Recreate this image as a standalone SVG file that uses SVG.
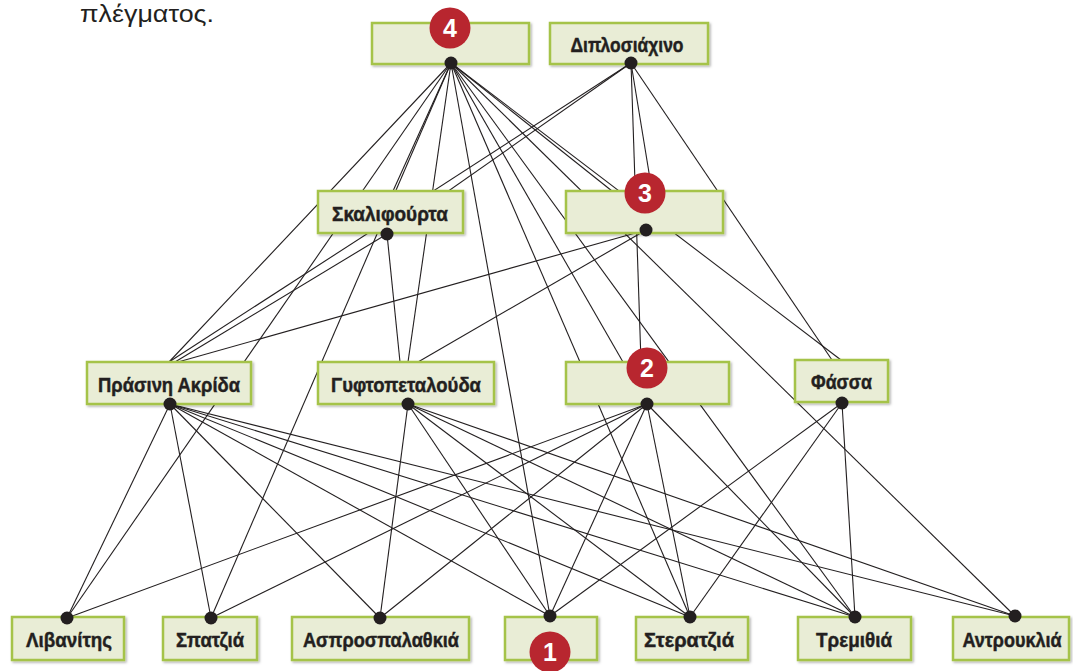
<svg xmlns="http://www.w3.org/2000/svg" width="1073" height="671" viewBox="0 0 1073 671">
<defs>
<filter id="sh" x="-10%" y="-20%" width="130%" height="150%">
<feDropShadow dx="1.5" dy="1.5" stdDeviation="1.2" flood-color="#000" flood-opacity="0.3"/>
</filter>
</defs>
<style>
.box{fill:#e9edd6;stroke:#a5c34a;stroke-width:2.5;filter:url(#sh)}
.lbl{font-family:"Liberation Sans",Arial,sans-serif;font-weight:bold;font-size:21px;fill:#231f20;stroke:#231f20;stroke-width:0.45;text-anchor:middle}
.dot{fill:#231f20}
.badge{fill:#b8262f}
.num{font-family:"Liberation Sans",Arial,sans-serif;font-weight:bold;font-size:25px;fill:#fff;text-anchor:middle}
.c line{stroke:#231f20;stroke-width:1.1}
.cap{font-family:"Liberation Sans",Arial,sans-serif;font-size:24px;fill:#231f20}
</style>
<rect width="1073" height="671" fill="#fff"/>
<text class="cap" x="80" y="22" textLength="134" lengthAdjust="spacingAndGlyphs">πλέγματος.</text>
<g id="connectors" class="c">
<line x1="451" y1="63" x2="169" y2="362"/>
<line x1="451" y1="63" x2="393" y2="191"/>
<line x1="451" y1="63" x2="408" y2="362"/>
<line x1="451" y1="63" x2="612" y2="191"/>
<line x1="451" y1="63" x2="623" y2="362"/>
<line x1="451" y1="63" x2="841" y2="360"/>
<line x1="451" y1="63" x2="67" y2="618"/>
<line x1="451" y1="63" x2="211" y2="618"/>
<line x1="451" y1="63" x2="550" y2="616"/>
<line x1="451" y1="63" x2="690" y2="617"/>
<line x1="451" y1="63" x2="855" y2="617"/>
<line x1="451" y1="63" x2="1015" y2="616"/>
<line x1="631" y1="63" x2="387" y2="234"/>
<line x1="631" y1="63" x2="169" y2="362"/>
<line x1="631" y1="63" x2="652" y2="191"/>
<line x1="631" y1="63" x2="641" y2="362"/>
<line x1="631" y1="63" x2="832" y2="360"/>
<line x1="387" y1="234" x2="175" y2="362"/>
<line x1="387" y1="234" x2="400" y2="362"/>
<line x1="646" y1="230" x2="178" y2="362"/>
<line x1="646" y1="230" x2="418" y2="362"/>
<line x1="170" y1="404" x2="67" y2="618"/>
<line x1="170" y1="404" x2="211" y2="618"/>
<line x1="170" y1="404" x2="380" y2="618"/>
<line x1="170" y1="404" x2="550" y2="616"/>
<line x1="170" y1="404" x2="690" y2="617"/>
<line x1="170" y1="404" x2="855" y2="617"/>
<line x1="170" y1="404" x2="1015" y2="616"/>
<line x1="408" y1="404" x2="380" y2="618"/>
<line x1="408" y1="404" x2="550" y2="616"/>
<line x1="408" y1="404" x2="690" y2="617"/>
<line x1="408" y1="404" x2="855" y2="617"/>
<line x1="408" y1="404" x2="1015" y2="616"/>
<line x1="647" y1="404" x2="67" y2="618"/>
<line x1="647" y1="404" x2="211" y2="618"/>
<line x1="647" y1="404" x2="380" y2="618"/>
<line x1="647" y1="404" x2="550" y2="616"/>
<line x1="647" y1="404" x2="690" y2="617"/>
<line x1="647" y1="404" x2="855" y2="617"/>
<line x1="842" y1="403" x2="550" y2="616"/>
<line x1="842" y1="403" x2="690" y2="617"/>
<line x1="842" y1="403" x2="855" y2="617"/>
</g>
<g id="node-4">
<rect class="box" x="372" y="23" width="157" height="41"/>
<circle class="dot" cx="451" cy="63" r="6.5"/>
<circle class="badge" cx="450" cy="28" r="20.5"/>
<text class="num" x="450" y="37">4</text>
</g>
<g id="node-diplosiachino">
<rect class="box" x="550" y="23" width="158" height="41"/>
<text class="lbl" x="627" y="52" textLength="113" lengthAdjust="spacingAndGlyphs">Διπλοσιάχινο</text>
<circle class="dot" cx="631" cy="63" r="6.5"/>
</g>
<g id="node-skalifourta">
<rect class="box" x="318" y="191" width="145" height="42"/>
<text class="lbl" x="390" y="221" textLength="116" lengthAdjust="spacingAndGlyphs">Σκαλιφούρτα</text>
<circle class="dot" cx="387" cy="234" r="6.5"/>
</g>
<g id="node-3">
<rect class="box" x="566" y="191" width="157" height="42"/>
<circle class="dot" cx="646" cy="230" r="6.5"/>
<circle class="badge" cx="645" cy="193" r="20.5"/>
<text class="num" x="645" y="202">3</text>
</g>
<g id="node-prasini-akrida">
<rect class="box" x="87" y="362" width="164" height="42"/>
<text class="lbl" x="169" y="392" textLength="142" lengthAdjust="spacingAndGlyphs">Πράσινη Ακρίδα</text>
<circle class="dot" cx="170" cy="404" r="6.5"/>
</g>
<g id="node-gyftopetalouda">
<rect class="box" x="318" y="362" width="176" height="42"/>
<text class="lbl" x="406" y="392" textLength="150" lengthAdjust="spacingAndGlyphs">Γυφτοπεταλούδα</text>
<circle class="dot" cx="408" cy="404" r="6.5"/>
</g>
<g id="node-2">
<rect class="box" x="566" y="362" width="163" height="42"/>
<circle class="dot" cx="647" cy="404" r="6.5"/>
<circle class="badge" cx="647" cy="368" r="20.5"/>
<text class="num" x="647" y="377">2</text>
</g>
<g id="node-fassa">
<rect class="box" x="795" y="360" width="93" height="42"/>
<text class="lbl" x="841.5" y="389" textLength="61" lengthAdjust="spacingAndGlyphs">Φάσσα</text>
<circle class="dot" cx="842" cy="403" r="6.5"/>
</g>
<g id="node-livanitis">
<rect class="box" x="12" y="617" width="112" height="43"/>
<text class="lbl" x="69" y="647" textLength="86" lengthAdjust="spacingAndGlyphs">Λιβανίτης</text>
<circle class="dot" cx="67" cy="618" r="6.5"/>
</g>
<g id="node-spatzia">
<rect class="box" x="163" y="617" width="94" height="43"/>
<text class="lbl" x="210" y="647" textLength="68" lengthAdjust="spacingAndGlyphs">Σπατζιά</text>
<circle class="dot" cx="211" cy="618" r="6.5"/>
</g>
<g id="node-asprospalathkia">
<rect class="box" x="292" y="617" width="177" height="43"/>
<text class="lbl" x="381" y="647" textLength="156" lengthAdjust="spacingAndGlyphs">Ασπροσπαλαθκιά</text>
<circle class="dot" cx="380" cy="618" r="6.5"/>
</g>
<g id="node-1">
<rect class="box" x="505" y="617" width="92" height="43"/>
<circle class="dot" cx="550" cy="616" r="6.5"/>
<circle class="badge" cx="550" cy="652" r="20.5"/>
<text class="num" x="550" y="661">1</text>
</g>
<g id="node-steratzia">
<rect class="box" x="636" y="617" width="112" height="43"/>
<text class="lbl" x="689" y="647" textLength="90" lengthAdjust="spacingAndGlyphs">Στερατζιά</text>
<circle class="dot" cx="690" cy="617" r="6.5"/>
</g>
<g id="node-tremithia">
<rect class="box" x="798" y="617" width="113" height="43"/>
<text class="lbl" x="854" y="647" textLength="76" lengthAdjust="spacingAndGlyphs">Τρεμιθιά</text>
<circle class="dot" cx="855" cy="617" r="6.5"/>
</g>
<g id="node-antroukila">
<rect class="box" x="953" y="617" width="116" height="43"/>
<g transform="translate(1012,647) scale(0.84,1)">
<text class="lbl" x="0" y="0" textLength="118" lengthAdjust="spacingAndGlyphs">Αντρουκλιά</text>
</g>
<circle class="dot" cx="1015" cy="616" r="6.5"/>
</g>
</svg>
